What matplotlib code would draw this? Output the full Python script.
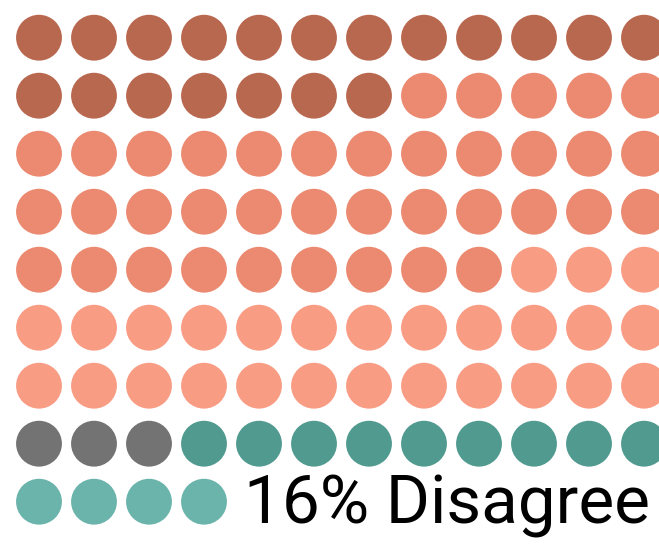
import numpy as np
from matplotlib import pyplot as plt

# waffle chart: 100 dots, 12 per row
categories = ['Strongly agree', 'Agree', 'Somewhat agree', 'Neutral', 'Disagree', 'Strongly disagree']
counts     = [19, 38, 27, 3, 9, 4]
colors     = ['#b96850', '#eb8a71', '#f99c84', '#737373', '#519a90', '#6bb4ac']
label      = '16% Disagree'

ncols = 12

fig = plt.figure(figsize=(6.59, 5.44), dpi=100)
ax  = fig.add_axes([0, 0, 1, 1])

idx = 0
for cat, n, c in zip(categories, counts, colors):
    k   = np.arange(idx, idx + n)
    col = k % ncols
    row = k // ncols
    ax.scatter(col, row, s=1090, color=c, edgecolors='none', label=cat)
    idx += n

ax.text(3.72, 8.37, label, fontsize=48.5, family='Roboto',
        ha='left', va='baseline', color='black')

ax.set_xlim(-39 / 55, (659 - 39) / 55)
ax.set_ylim((544 - 37.7) / 58, -37.7 / 58)
ax.axis('off')

fig.savefig('out.png', dpi=100)
